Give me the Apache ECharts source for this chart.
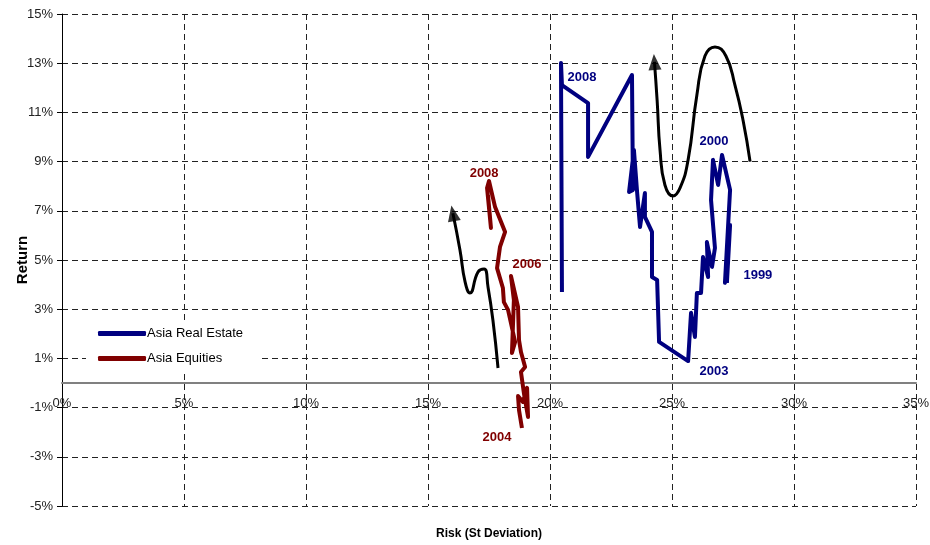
<!DOCTYPE html>
<html>
<head>
<meta charset="utf-8">
<script src="https://cdn.jsdelivr.net/npm/echarts@6/dist/echarts.min.js"></script>
<style>html,body{margin:0;padding:0;background:#fff}#c{width:930px;height:545px}</style>
</head>
<body>
<div id="c"></div>
<script>
// Risk (x, %) and return (y, %) pairs
var realEstateRisk = [27.25,27.38,27.17,27.38,27.05,26.89,26.68,26.60,26.76,26.64,26.43,26.48,26.27,26.19,26.02,25.94,25.78,25.66,24.47,24.39,24.18,24.18,23.89,23.89,23.69,23.57,23.44,23.24,23.40,23.36,21.56,21.56,20.49,20.45,20.49];
var realEstateReturn = [4.07,6.42,4.07,7.85,9.27,8.05,9.07,7.44,5.49,4.72,5.73,4.31,5.12,3.66,3.66,1.87,2.85,0.89,1.67,4.19,4.31,6.14,6.75,7.72,6.34,7.76,9.47,7.76,7.85,12.52,9.19,11.38,12.11,13.01,3.70];
var equitiesRisk = [18.85,18.73,18.69,18.89,19.06,19.10,18.93,18.81,18.98,18.81,18.73,18.69,18.40,18.52,18.44,18.57,18.28,18.11,18.07,17.83,17.95,18.16,17.75,17.50,17.42,17.58,17.46];
var equitiesReturn = [-1.83,-1.10,-0.53,-0.77,-0.20,-1.38,-0.41,0.45,0.65,1.26,1.75,3.09,4.35,3.37,1.22,1.67,2.97,3.29,3.86,4.67,5.53,6.14,7.15,8.21,7.93,6.30,7.64];
// Annotation arrows (black curves)
var arrow1X = [17.87,17.66,17.46,17.30,17.05,16.72,16.52,16.31,16.02];
var arrow1Y = [0.61,2.56,3.90,4.63,4.51,3.66,4.11,5.41,6.90];
var arrow2X = [28.20,27.91,27.58,27.21,26.76,26.35,26.02,25.66,25.33,25.04,24.71,24.51,24.39,24.28];
var arrow2Y = [9.00,10.69,12.11,13.29,13.66,13.29,11.71,9.07,7.93,7.60,8.05,9.47,11.50,13.05];
// Year labels
var reLabels = ['2008','2000','1999','2003'];
var reLabelX = [21.31,26.72,28.52,26.72];
var reLabelY = [12.44,9.84,4.39,0.49];
var eqLabels = ['2008','2006','2004'];
var eqLabelX = [17.30,19.06,17.83];
var eqLabelY = [8.50,4.84,-2.20];
var xTicks = [0,5,10,15,20,25,30,35];
var yTicks = [-5,-3,-1,1,3,5,7,9,11,13,15];

function zip(a,b){return a.map(function(v,i){return [v,b[i]];});}
function labelPts(names,xs,ys){return names.map(function(n,i){return {name:n,coord:[xs[i],ys[i]]};});}

var FONT = 'Liberation Sans, Arial, sans-serif';
var BLUE = '#000080', RED = '#800000';
var gridLine = {show:true, lineStyle:{color:'#222', width:1, type:[6,4]}};

var chart = echarts.init(document.getElementById('c'), null, {renderer:'canvas'});
function arrowHead(name, xs, ys){
  var n = xs.length;
  return {
    name:name, type:'scatter', data:[[xs[n-1], ys[n-1]]], symbol:'triangle', symbolSize:[13,16],
    symbolRotate:0, itemStyle:{color:'#000'}, z:5, silent:true
  };
}
var baseSeries = [
  {
    name:'Arrow1', type:'line', data:zip(arrow1X,arrow1Y), smooth:0.5, symbol:'none',
    lineStyle:{color:'#000', width:3}, z:3, silent:true
  },
  {
    name:'Arrow2', type:'line', data:zip(arrow2X,arrow2Y), smooth:0.5, symbol:'none',
    lineStyle:{color:'#000', width:3}, z:3, silent:true
  },
  {
    name:'Asia Real Estate', type:'line', data:zip(realEstateRisk,realEstateReturn),
    symbol:'none', lineStyle:{color:BLUE, width:4, join:'round'}, itemStyle:{color:BLUE}, z:4,
    markPoint:{symbol:'circle', symbolSize:1, itemStyle:{color:'rgba(0,0,0,0)'},
      label:{show:true, position:'inside', formatter:function(p){return p.name;}, color:BLUE, fontWeight:'bold', fontSize:13, fontFamily:FONT},
      data:labelPts(reLabels,reLabelX,reLabelY)}
  },
  {
    name:'Asia Equities', type:'line', data:zip(equitiesRisk,equitiesReturn),
    symbol:'none', lineStyle:{color:RED, width:4, join:'round'}, itemStyle:{color:RED}, z:4,
    markPoint:{symbol:'circle', symbolSize:1, itemStyle:{color:'rgba(0,0,0,0)'},
      label:{show:true, position:'inside', formatter:function(p){return p.name;}, color:RED, fontWeight:'bold', fontSize:13, fontFamily:FONT},
      data:labelPts(eqLabels,eqLabelX,eqLabelY)}
  },
  arrowHead('Head1', arrow1X, arrow1Y),
  arrowHead('Head2', arrow2X, arrow2Y)
];

chart.setOption({
  animation:false,
  backgroundColor:'#fff',
  textStyle:{fontFamily:FONT},
  grid:{left:62, right:14, top:14, bottom:39, containLabel:false, outerBoundsMode:'none'},
  legend:{
    data:['Asia Real Estate','Asia Equities'],
    orient:'vertical', left:86, top:322, itemGap:12,
    itemWidth:48, itemHeight:5, icon:'roundRect',
    backgroundColor:'#fff', padding:[5,18,5,12],
    textStyle:{fontFamily:FONT, fontSize:13, color:'#000', padding:[0,0,0,-4]}
  },
  xAxis:{
    type:'value', min:xTicks[0], max:xTicks[xTicks.length-1], interval:5,
    offset:-123,
    name:'Risk (St Deviation)', nameLocation:'middle', nameGap:145, nameMoveOverlap:false,
    nameTextStyle:{fontFamily:FONT, fontWeight:'bold', fontSize:12, color:'#000'},
    axisLine:{show:true, onZero:false, lineStyle:{color:'#808080', width:2}},
    axisTick:{show:false},
    axisLabel:{formatter:'{value}%', fontFamily:FONT, fontSize:13, color:'#222', margin:14},
    splitLine:gridLine
  },
  yAxis:{
    type:'value', min:yTicks[0], max:yTicks[yTicks.length-1], interval:2,
    name:'Return', nameLocation:'middle', nameGap:32, nameRotate:90, nameMoveOverlap:false,
    nameTextStyle:{fontFamily:FONT, fontWeight:'bold', fontSize:15, color:'#000'},
    axisLine:{show:true, onZero:false, lineStyle:{color:'#000', width:1}},
    axisTick:{show:true, length:5, lineStyle:{color:'#000'}},
    axisLabel:{formatter:'{value}%', fontFamily:FONT, fontSize:13, color:'#222', margin:9},
    splitLine:gridLine
  },
  series:baseSeries
});

// orient the arrow heads along the final segment of each curve (in pixel space)
function rot(xs, ys){
  var n = xs.length;
  var a = chart.convertToPixel({gridIndex:0}, [xs[n-2], ys[n-2]]);
  var b = chart.convertToPixel({gridIndex:0}, [xs[n-1], ys[n-1]]);
  var dx = b[0]-a[0], dy = b[1]-a[1];
  return Math.atan2(-dx, -dy) * 180 / Math.PI;
}
chart.setOption({series:[{},{},{},{},{symbolRotate:rot(arrow1X,arrow1Y)},{symbolRotate:rot(arrow2X,arrow2Y)}]});
</script>
</body>
</html>
